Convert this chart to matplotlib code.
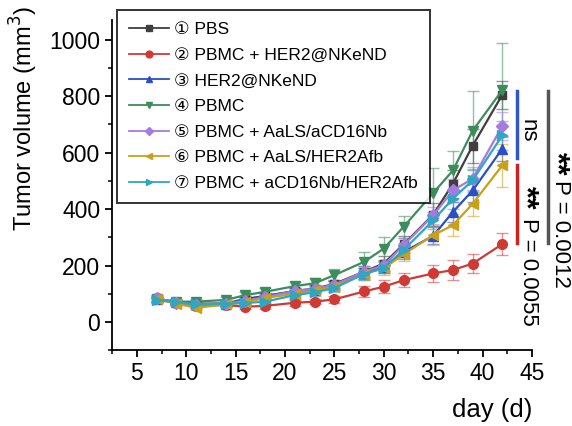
import matplotlib
matplotlib.use("Agg")
import matplotlib.pyplot as plt
from matplotlib.ticker import MultipleLocator

plt.rcParams['font.family'] = ['Liberation Sans', 'DejaVu Sans']

# data
days = [7, 9, 11, 14, 16, 18, 21, 23, 25, 28, 30, 32, 35, 37, 39, 42]

labels = ['\u2460 PBS', '\u2461 PBMC + HER2@NKeND', '\u2462 HER2@NKeND', '\u2463 PBMC',
          '\u2464 PBMC + AaLS/aCD16Nb', '\u2465 PBMC + AaLS/HER2Afb',
          '\u2466 PBMC + aCD16Nb/HER2Afb']

pbs = [80, 70, 65, 65, 82, 92, 110, 118, 135, 178, 207, 275, 380, 490, 625, 805]
pbmc_nkend = [85, 67, 58, 60, 54, 57, 68, 72, 80, 108, 125, 148, 172, 184, 207, 276]
nkend = [80, 72, 62, 65, 78, 92, 108, 115, 130, 172, 195, 248, 305, 390, 466, 614]
pbmc = [82, 72, 72, 78, 95, 107, 127, 137, 166, 213, 260, 337, 457, 537, 678, 822]
aals_cd16 = [85, 68, 60, 65, 75, 88, 110, 118, 132, 178, 201, 272, 378, 466, 508, 694]
aals_her2 = [80, 65, 50, 62, 70, 85, 100, 112, 125, 170, 190, 240, 307, 343, 419, 555]
cd16_her2 = [78, 70, 62, 65, 67, 72, 95, 105, 120, 170, 192, 255, 360, 437, 502, 661]

err_pbs = [10, 8, 8, 8, 10, 10, 12, 12, 15, 20, 25, 30, 40, 50, 60, 50]
err_pbmc_nkend = [10, 8, 8, 8, 8, 10, 10, 10, 12, 20, 22, 25, 30, 35, 35, 40]
err_nkend = [10, 8, 8, 8, 10, 10, 12, 12, 15, 20, 20, 25, 30, 35, 40, 45]
err_pbmc = [10, 8, 8, 10, 12, 15, 15, 18, 20, 35, 40, 40, 90, 70, 140, 165]
err_aals_cd16 = [10, 8, 8, 8, 10, 10, 12, 12, 15, 20, 20, 25, 30, 40, 40, 50]
err_aals_her2 = [10, 8, 8, 8, 10, 10, 12, 12, 15, 20, 22, 25, 35, 40, 45, 75]
err_cd16_her2 = [10, 8, 8, 8, 10, 10, 12, 12, 15, 20, 20, 25, 30, 35, 40, 50]

series = [pbs, pbmc_nkend, nkend, pbmc, aals_cd16, aals_her2, cd16_her2]
errors = [err_pbs, err_pbmc_nkend, err_nkend, err_pbmc, err_aals_cd16, err_aals_her2, err_cd16_her2]
colors = ['#3f3f3f', '#d03a35', '#2a4fc8', '#3d8c5c', '#a67be0', '#c9a01a', '#2fa6c2']
markers = ['s', 'o', '^', 'v', 'D', '<', '>']
msizes = [6, 7, 7, 7, 6, 7, 7]

fig = plt.figure(figsize=(5.72, 4.26), dpi=100)
ax = fig.add_axes([0.196, 0.178, 0.734, 0.775])

handles = []
for y, e, c, m, ms in zip(series, errors, colors, markers, msizes):
    eb = ax.errorbar(days, y, yerr=e, color=c, ecolor=c, elinewidth=1, capsize=4,
                     capthick=1, lw=0, zorder=2)
    for cap in eb.lines[1]:
        cap.set_alpha(0.55)
    for bar in eb.lines[2]:
        bar.set_alpha(0.55)
    ln, = ax.plot(days, y, color=c, marker=m, ms=ms, lw=1.6, zorder=3)
    handles.append(ln)

ax.set_xlim(2.5, 45)
ax.set_ylim(-100, 1070)
ax.xaxis.set_minor_locator(MultipleLocator(2.5))
ax.yaxis.set_minor_locator(MultipleLocator(100))
ax.set_xticks(range(5, 46, 5))
ax.set_yticks(range(0, 1001, 200))
for s in ['top', 'right']:
    ax.spines[s].set_visible(False)
for s in ['left', 'bottom']:
    ax.spines[s].set_linewidth(1.3)
ax.tick_params(which='major', direction='out', length=5, width=1.3, labelsize=16.5)
ax.tick_params(which='minor', direction='out', length=3, width=1.1)

ax.set_ylabel('Tumor volume (mm$^3$)', fontsize=17)
ax.yaxis.set_label_coords(-0.171, 0.70)
ax.set_xlabel('day (d)', fontsize=18.5)
ax.xaxis.set_label_coords(0.905, -0.145)

leg = fig.legend(handles, labels, loc='upper left', bbox_to_anchor=(117 / 572, 1 - 10 / 426),
                 borderaxespad=0, fontsize=12.5, handlelength=2.3, handletextpad=0.3,
                 labelspacing=0.6, frameon=True, fancybox=False, borderpad=0.7,
                 markerscale=0.7)
leg.get_frame().set_edgecolor('black')
leg.get_frame().set_linewidth(1.4)
for h in leg.get_lines():
    h.set_linewidth(1.3)

# significance brackets
ax.plot([43.45, 43.45], [580, 820], color='#3355cc', lw=2.5, clip_on=False)
ax.text(44.6, 678, 'ns', rotation=-90, ha='center', va='center', fontsize=16)
ax.plot([43.45, 43.45], [279, 555], color='#cc2222', lw=2.5, clip_on=False)
ax.text(44.3, 440, '**', rotation=-90, ha='center', va='center', fontsize=22,
        fontweight='bold')
ax.text(44.7, 177, 'P = 0.0055', rotation=-90, ha='center', va='center', fontsize=16)
ax.plot([46.6, 46.6], [279, 820], color='#555555', lw=2.5, clip_on=False)
ax.text(47.4, 560, '**', rotation=-90, ha='center', va='center', fontsize=22,
        fontweight='bold')
ax.text(47.9, 311, 'P = 0.0012', rotation=-90, ha='center', va='center', fontsize=16)

fig.savefig('out.png', dpi=100)
